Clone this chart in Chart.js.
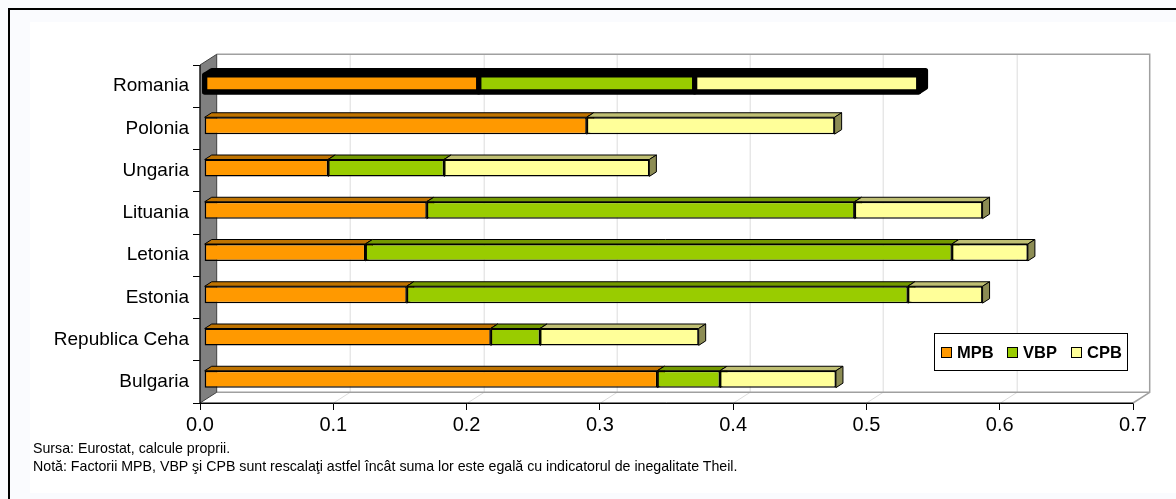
<!DOCTYPE html>
<html lang="ro">
<head>
  <meta charset="UTF-8">
  <title>Indicatorul Theil - descompunere</title>
  <script src="https://cdn.jsdelivr.net/npm/chart.js"></script>
  <style>
    * { box-sizing: border-box; }
    html, body { margin:0; padding:0; width:1176px; height:499px; overflow:hidden; background:#fafbfe; }
    body { font-family:'Liberation Sans', Arial, sans-serif; color:#000; position:relative; }
    .frame { position:absolute; left:8px; top:8px; width:1300px; height:600px; border:2px solid #000; }
    .inner { position:absolute; left:30px; top:22px; width:1146px; height:471px; background:#fff; }
    #chart { position:absolute; left:0; top:0; }
    .note { position:absolute; left:33px; font-size:14.2px; line-height:16px; white-space:nowrap; }
  </style>
</head>
<body>
  <div class="frame"></div>
  <div class="inner"></div>
  <canvas id="chart" width="1176" height="499"></canvas>
  <div class="note" style="top:440px">Sursa: Eurostat, calcule proprii.</div>
  <div class="note" style="top:458px">Notă: Factorii MPB, VBP şi CPB sunt rescalaţi astfel încât suma lor este egală cu indicatorul de inegalitate Theil.</div>

  <script>
    const categories = ['Romania', 'Polonia', 'Ungaria', 'Lituania', 'Letonia', 'Estonia', 'Republica Ceha', 'Bulgaria'];
    const mpb = [0.206, 0.287, 0.093, 0.167, 0.121, 0.152, 0.215, 0.340];
    const vbp = [0.162, 0.000, 0.087, 0.321, 0.440, 0.376, 0.037, 0.047];
    const cpb = [0.168, 0.186, 0.154, 0.096, 0.057, 0.056, 0.119, 0.087];
    const xTicks = [0, 0.1, 0.2, 0.3, 0.4, 0.5, 0.6, 0.7];

    const series = [
      { label: 'MPB', data: mpb, front: '#ff9900', top: '#bf7300', side: '#8c5400' },
      { label: 'VBP', data: vbp, front: '#99cc00', top: '#739900', side: '#547000' },
      { label: 'CPB', data: cpb, front: '#ffff99', top: '#bfbf73', side: '#8c8c54' }
    ];

    // oblique depth of the plot box and where the bars sit inside it
    const DEPTH = { x: 16.7, y: -10.7 };
    const BAR_FRONT = 0.25, BAR_BACK = 0.67;
    const HIGHLIGHT = 0; // Romania drawn with a heavy outline

    function poly(ctx, pts) {
      ctx.beginPath();
      ctx.moveTo(pts[0][0], pts[0][1]);
      for (let i = 1; i < pts.length; i++) ctx.lineTo(pts[i][0], pts[i][1]);
      ctx.closePath();
    }

    function barBox(el, f, d) {
      const p = el.getProps(['x', 'y', 'base', 'height'], true);
      const L = Math.min(p.base, p.x) + f.x, R = Math.max(p.base, p.x) + f.x;
      const T = p.y - p.height / 2 + f.y, B = p.y + p.height / 2 + f.y;
      return { L, R, T, B, w: R - L,
        top:  [[L, T], [L + d.x, T + d.y], [R + d.x, T + d.y], [R, T]],
        side: [[R, T], [R + d.x, T + d.y], [R + d.x, B + d.y], [R, B]] };
    }

    const box3d = {
      id: 'box3d',
      beforeDatasetsDraw(chart) {
        const { ctx, chartArea: a, scales: { x } } = chart;
        const dx = DEPTH.x, dy = DEPTH.y;
        ctx.save();

        // back wall grid lines and floor diagonals
        ctx.strokeStyle = '#dcdcdc';
        ctx.lineWidth = 1;
        xTicks.slice(1, -1).forEach(v => {
          const px = Math.round(x.getPixelForValue(v)) + 0.5;
          ctx.beginPath();
          ctx.moveTo(px, a.bottom);
          ctx.lineTo(px + dx, a.bottom + dy);
          ctx.lineTo(px + dx, a.top + dy);
          ctx.stroke();
        });

        // back wall and floor outline
        ctx.strokeStyle = '#a0a0a0';
        ctx.lineWidth = 1.5;
        ctx.beginPath();
        ctx.moveTo(a.left + dx, a.top + dy);
        ctx.lineTo(a.right + dx, a.top + dy);
        ctx.lineTo(a.right + dx, a.bottom + dy);
        ctx.lineTo(a.right, a.bottom);
        ctx.moveTo(a.left + dx, a.bottom + dy);
        ctx.lineTo(a.right + dx, a.bottom + dy);
        ctx.stroke();

        // left side wall
        poly(ctx, [[a.left, a.top], [a.left + dx, a.top + dy], [a.left + dx, a.bottom + dy], [a.left, a.bottom]]);
        ctx.fillStyle = '#808080';
        ctx.fill();
        ctx.strokeStyle = '#404040';
        ctx.lineWidth = 1;
        ctx.stroke();
        ctx.strokeStyle = '#000';
        ctx.beginPath();
        ctx.moveTo(a.left, a.top);
        ctx.lineTo(a.left, a.bottom);
        ctx.lineTo(a.right, a.bottom);
        ctx.stroke();

        // bar tops and right ends, segment by segment from left to right
        const f = { x: dx * BAR_FRONT, y: dy * BAR_FRONT };
        const d = { x: dx * (BAR_BACK - BAR_FRONT), y: dy * (BAR_BACK - BAR_FRONT) };
        ctx.lineWidth = 1;
        ctx.lineJoin = 'round';
        categories.forEach((c, i) => {
          series.forEach((s, j) => {
            const b = barBox(chart.getDatasetMeta(j).data[i], f, d);
            if (b.w < 0.5) return;
            const hl = i === HIGHLIGHT;
            ctx.strokeStyle = '#000';
            poly(ctx, b.top);  ctx.fillStyle = hl ? '#000' : s.top;  ctx.fill(); ctx.stroke();
            poly(ctx, b.side); ctx.fillStyle = hl ? '#000' : s.side; ctx.fill(); ctx.stroke();
          });
        });

        ctx.restore();
        ctx.save();
        ctx.translate(f.x, f.y);
      },
      afterDatasetsDraw(chart) {
        const { ctx } = chart;
        ctx.restore();

        // heavy outline on the highlighted bar
        const f = { x: DEPTH.x * BAR_FRONT, y: DEPTH.y * BAR_FRONT };
        const d = { x: DEPTH.x * (BAR_BACK - BAR_FRONT), y: DEPTH.y * (BAR_BACK - BAR_FRONT) };
        const boxes = series.map((s, j) => barBox(chart.getDatasetMeta(j).data[HIGHLIGHT], f, d)).filter(b => b.w >= 0.5);
        if (!boxes.length) return;
        ctx.save();
        ctx.strokeStyle = '#000';
        ctx.lineWidth = 5;
        ctx.lineJoin = 'round';
        boxes.forEach(b => { ctx.strokeRect(b.L, b.T, b.w, b.B - b.T); });
        const first = boxes[0], last = boxes[boxes.length - 1];
        poly(ctx, [[first.L, first.B], [first.L, first.T], [first.L + d.x, first.T + d.y],
                   [last.R + d.x, last.T + d.y], [last.R + d.x, last.B + d.y], [last.R, last.B]]);
        ctx.stroke();
        ctx.restore();
      },
      afterDraw(chart) {
        // legend box inside the plot
        const { ctx } = chart;
        const lx = 934, ly = 333, lw = 193, lh = 37;
        ctx.save();
        ctx.fillStyle = '#fff';
        ctx.fillRect(lx, ly, lw, lh);
        ctx.strokeStyle = '#000';
        ctx.lineWidth = 1;
        ctx.strokeRect(lx + 0.5, ly + 0.5, lw, lh);
        ctx.font = 'bold 16.5px "Liberation Sans", Arial, sans-serif';
        ctx.textBaseline = 'middle';
        const itemX = [941, 1007, 1071];
        series.forEach((s, j) => {
          ctx.fillStyle = s.front;
          ctx.fillRect(itemX[j] + 0.5, ly + 14.5, 10, 10);
          ctx.strokeRect(itemX[j] + 0.5, ly + 14.5, 10, 10);
          ctx.fillStyle = '#000';
          ctx.fillText(s.label, itemX[j] + 16, ly + 20);
        });
        ctx.restore();
      }
    };

    new Chart(document.getElementById('chart'), {
      type: 'bar',
      data: {
        labels: categories,
        datasets: series.map(s => ({
          label: s.label,
          data: s.data,
          backgroundColor: s.front,
          borderColor: '#000',
          borderWidth: 1.5,
          borderSkipped: false,
          categoryPercentage: 1,
          barPercentage: 0.4,
          clip: false
        }))
      },
      options: {
        indexAxis: 'y',
        responsive: false,
        animation: false,
        layout: { padding: { left: 0, top: 65, right: 43, bottom: 56 } },
        scales: {
          x: {
            stacked: true,
            min: 0, max: 0.7,
            afterFit: s => { s.height = 40; },
            afterBuildTicks: s => { s.ticks = xTicks.map(v => ({ value: v })); },
            ticks: {
              color: '#000', padding: 3, maxRotation: 0,
              font: { family: '"Liberation Sans", Arial, sans-serif', size: 20 },
              callback: v => v.toFixed(1)
            },
            grid: { drawOnChartArea: false, drawTicks: true, tickLength: 7, color: '#000' },
            border: { display: true, color: '#000', width: 1 }
          },
          y: {
            stacked: true,
            afterFit: s => { s.width = 200; },
            ticks: {
              color: '#000', padding: 4,
              font: { family: '"Liberation Sans", Arial, sans-serif', size: 19 }
            },
            grid: { drawOnChartArea: false, drawTicks: true, tickLength: 7, color: '#000', offset: true },
            border: { display: true, color: '#000', width: 1 }
          }
        },
        plugins: { legend: { display: false }, tooltip: { enabled: false } }
      },
      plugins: [box3d]
    });
  </script>
</body>
</html>
